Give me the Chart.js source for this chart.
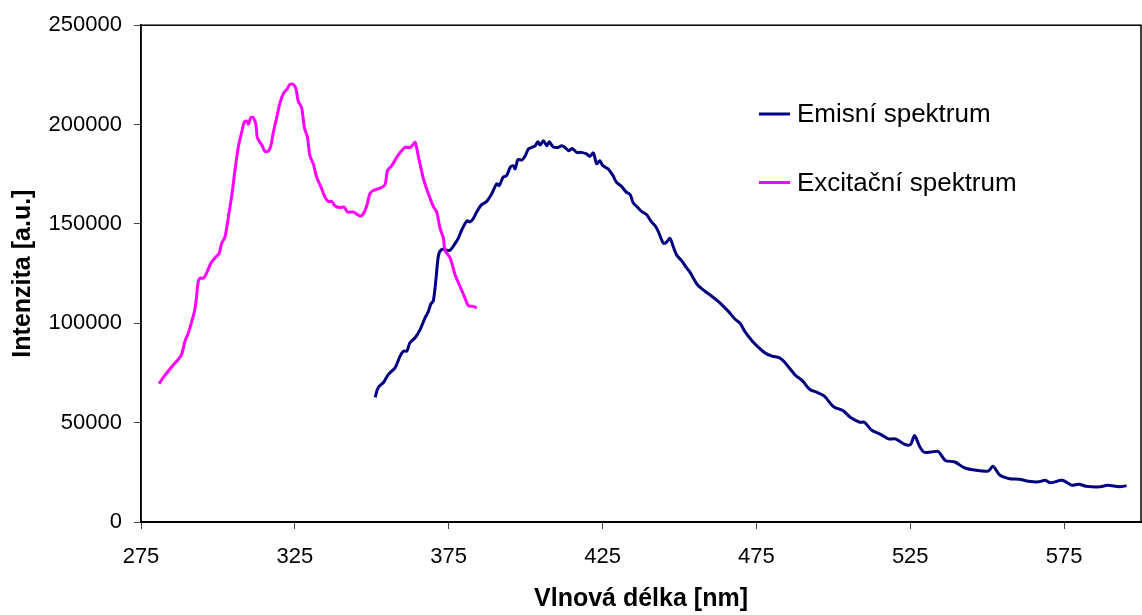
<!DOCTYPE html>
<html>
<head>
<meta charset="utf-8">
<script src="https://cdn.jsdelivr.net/npm/chart.js@4/dist/chart.umd.min.js"></script>
<style>
  html, body { margin: 0; padding: 0; background: #fff; }
  #wrap { width: 1142px; height: 615px; }
</style>
</head>
<body>
<div id="wrap"><canvas id="spektra" width="1142" height="615"></canvas></div>
<script>
// emisni spektrum (nm / intenzita)
var emisniNm = [351.1, 352.1, 353.8, 355.4, 357.6, 359.2, 360.3, 361.4, 362.4, 364.1, 365.7, 367.3, 368.4, 369.2, 370.0,
  370.9, 371.7, 372.8, 374.2, 375.5, 377.1, 378.1, 379.2, 380.9, 381.9, 383.0, 384.1, 385.7, 387.3, 389.0, 390.6, 391.4,
  392.7, 393.8, 395.0, 396.0, 396.6, 397.5, 398.8, 399.8, 400.9, 402.0, 403.1, 404.0, 404.7, 405.8, 406.9, 407.7, 409.0,
  410.6, 411.7, 412.8, 414.1, 415.1, 416.6, 418.2, 419.8, 420.9, 422.0, 423.1, 424.1, 425.1, 426.8, 428.4, 429.5, 431.1,
  432.7, 434.0, 434.9, 436.3, 437.7, 439.3, 440.9, 442.0, 443.1, 444.8, 445.9, 446.9, 448.0, 449.1, 450.8, 452.4, 453.3,
  455.8, 458.4, 460.6, 462.6, 465.9, 468.1, 469.7, 471.4, 473.7, 476.3, 477.9, 480.1, 482.7, 484.4, 487.6, 490.0, 492.3,
  494.7, 497.0, 500.1, 503.2, 505.5, 508.6, 510.1, 512.4, 515.5, 517.9, 520.2, 523.3, 525.1, 526.4, 527.9, 529.4, 531.8,
  534.1, 536.4, 539.5, 542.6, 546.5, 550.4, 551.9, 554.2, 557.3, 560.4, 563.5, 566.6, 568.9, 570.5, 574.4, 577.5, 579.8,
  582.1, 586.8, 589.1, 593.0, 595.3];
var emisniInt = [62700, 67700, 70200, 74300, 77700, 83500, 86000, 86000, 90200, 92700, 96800, 102700, 106000, 109700, 111300,
  122700, 134300, 137200, 136800, 136800, 140200, 142700, 146800, 151500, 151000, 152700, 156000, 159700, 161300, 165200, 170200, 169300,
  173500, 174300, 178500, 179300, 177700, 182300, 182200, 184000, 187700, 188500, 189300, 191300, 189700, 191800, 189300, 191300, 188700,
  188500, 189300, 188500, 186800, 188000, 186000, 186000, 185200, 184000, 185700, 180300, 181800, 179300, 177700, 174300, 171000, 169000,
  166000, 164700, 160800, 158500, 156300, 154700, 151000, 149300, 146300, 140200, 141000, 142700, 138500, 134300, 131300, 127700, 126000,
  119500, 116000, 113500, 111000, 106000, 102000, 100000, 95500, 91000, 87000, 85000, 83500, 82500, 80000, 74000, 71000, 66800,
  65200, 63500, 58000, 56000, 52700, 50200, 50200, 46300, 44000, 41800, 41800, 39000, 39000, 43500, 38500, 35200, 35200,
  35500, 31000, 30200, 27300, 26000, 25700, 28000, 23500, 21800, 21500, 20500, 20200, 21000, 19700, 21000, 18500, 19000,
  18000, 17700, 18500, 17700, 18300];

// excitacni spektrum
var excitacniNm = [280.9, 282.2, 283.9, 285.5, 287.1, 288.2, 289.3, 290.4, 291.5, 292.6, 293.6, 294.2, 295.3, 296.3, 297.7,
  299.1, 300.4, 301.2, 302.3, 303.4, 304.5, 305.6, 306.6, 307.7, 308.6, 309.4, 309.9, 310.7, 311.5, 312.3, 312.8, 313.7,
  314.4, 315.3, 316.4, 317.2, 318.0, 319.1, 320.2, 321.3, 322.4, 323.4, 324.5, 325.4, 326.1, 327.2, 328.1, 329.1, 329.9,
  331.0, 332.1, 333.5, 334.8, 335.9, 337.0, 338.1, 339.7, 341.0, 342.1, 344.0, 346.2, 347.3, 348.4, 349.4, 350.5, 352.7,
  354.3, 355.1, 356.5, 358.1, 359.7, 360.8, 362.5, 363.3, 364.1, 365.1, 366.8, 368.4, 370.1, 371.1, 372.2, 373.3, 373.8,
  375.5, 377.1, 378.7, 380.3, 381.4, 383.0, 384.1];
var excitacniInt = [69650, 72650, 76000, 79000, 81800, 84300, 91000, 95200, 101000, 107700, 121000, 122700, 122700, 125200, 130200,
  133000, 135200, 140200, 143500, 153500, 164300, 177700, 188500, 196000, 201300, 201800, 200200, 203500, 203500, 200200, 193500, 191000,
  189300, 186500, 186800, 189300, 196000, 203500, 211000, 215700, 217700, 220200, 220200, 217700, 211800, 208500, 198500, 193500, 184300,
  180200, 173500, 168500, 163500, 161300, 161300, 159000, 158200, 158500, 156000, 156000, 154000, 155200, 159300, 165200, 166800, 168000,
  169700, 176800, 179300, 183500, 186800, 188500, 188500, 189700, 191000, 184300, 172700, 165200, 158500, 156000, 147700, 142700, 136800,
  132700, 124300, 118500, 112700, 108800, 108500, 107700];

var nazvy = ['Emisní spektrum', 'Excitační spektrum'];
var barvy = ['#000080', '#FF00FF'];
var yTicks = [0, 50000, 100000, 150000, 200000, 250000];
var xTicks = [275, 325, 375, 425, 475, 525, 575];

function body(xs, ys) {
  var out = [];
  for (var i = 0; i < xs.length; i++) out.push({x: xs[i], y: ys[i]});
  return out;
}

var pismo = "'Liberation Sans', Arial, sans-serif";

// ramecek kolem plochy grafu
var ramecek = {
  id: 'ramecek',
  beforeDatasetsDraw: function(chart) {
    var a = chart.chartArea, ctx = chart.ctx;
    ctx.save();
    ctx.strokeStyle = '#000';
    ctx.lineWidth = 1.5;
    ctx.strokeRect(a.left, a.top, a.right - a.left, a.bottom - a.top);
    ctx.restore();
  }
};

// legenda uvnitr grafu
var legenda = {
  id: 'legenda',
  afterDatasetsDraw: function(chart) {
    var ctx = chart.ctx;
    ctx.save();
    ctx.font = '26px ' + pismo;
    ctx.textBaseline = 'middle';
    ctx.fillStyle = '#000';
    chart.data.datasets.forEach(function(ds, i) {
      var y = 114 + i * 68.5;
      ctx.strokeStyle = ds.borderColor;
      ctx.lineWidth = 3;
      ctx.beginPath();
      ctx.moveTo(759, y);
      ctx.lineTo(790, y);
      ctx.stroke();
      ctx.fillText(ds.label, 797, y + 1);
    });
    ctx.restore();
  }
};

var ctx = document.getElementById('spektra').getContext('2d');
var chart = new Chart(ctx, {
  type: 'line',
  data: {
    datasets: [{
      label: nazvy[0],
      data: body(emisniNm, emisniInt),
      borderColor: barvy[0],
      borderWidth: 3,
      pointRadius: 0,
      tension: 0.3,
      fill: false,
      order: 2
    }, {
      label: nazvy[1],
      data: body(excitacniNm, excitacniInt),
      borderColor: barvy[1],
      borderWidth: 3,
      pointRadius: 0,
      tension: 0.3,
      fill: false,
      order: 1
    }]
  },
  options: {
    responsive: false,
    animation: false,
    layout: { padding: { top: 20, right: 1, left: 0, bottom: 0 } },
    plugins: {
      legend: { display: false },
      tooltip: { enabled: false }
    },
    scales: {
      x: {
        type: 'linear',
        min: 275,
        max: 600,
        afterBuildTicks: function(s) {
          s.ticks = xTicks.map(function(v) { return {value: v}; });
        },
        afterFit: function(s) { s.height = 93; },
        ticks: {
          color: '#000',
          font: { family: pismo, size: 22 },
          padding: 15,
          maxRotation: 0,
          callback: function(v) { return String(v); }
        },
        grid: { drawOnChartArea: false, drawTicks: true, tickLength: 7, color: '#444' },
        border: { display: true, color: '#000', width: 2 },
        title: {
          display: true,
          text: 'Vlnová délka [nm]',
          color: '#000',
          font: { family: pismo, size: 25, weight: 'bold' },
          padding: { top: 0, bottom: 1 }
        }
      },
      y: {
        min: 0,
        max: 250000,
        afterBuildTicks: function(s) {
          s.ticks = yTicks.map(function(v) { return {value: v}; });
        },
        afterFit: function(s) { s.width = 141; },
        ticks: {
          color: '#000',
          font: { family: pismo, size: 22 },
          padding: 12,
          callback: function(v) { return String(v); }
        },
        grid: { drawOnChartArea: false, drawTicks: true, tickLength: 7, color: '#444' },
        border: { display: true, color: '#000', width: 1.5 },
        title: {
          display: true,
          text: 'Intenzita [a.u.]',
          color: '#000',
          font: { family: pismo, size: 25, weight: 'bold' },
          padding: { top: 8, bottom: 0 }
        }
      }
    }
  },
  plugins: [ramecek, legenda]
});
</script>
</body>
</html>
